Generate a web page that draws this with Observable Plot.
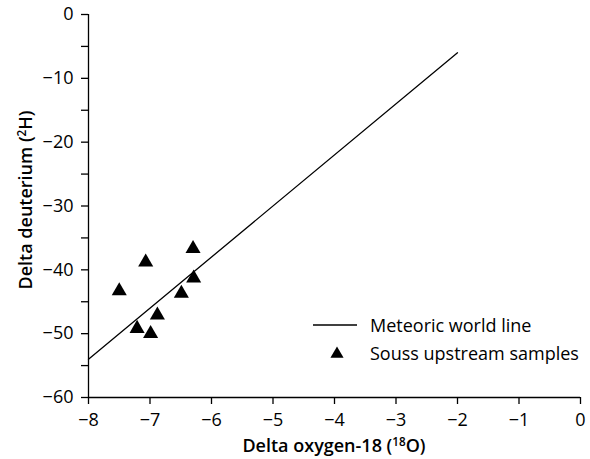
<!DOCTYPE html>
<html><head><meta charset="utf-8">
<script src="https://cdn.jsdelivr.net/npm/d3@7"></script>
<script src="https://cdn.jsdelivr.net/npm/@observablehq/plot@0.6"></script>
<style>
body{margin:0;background:#fff;}
#wrap{position:relative;width:590px;height:459px;font-family:"Open Sans",sans-serif;}
#legend{position:absolute;left:313px;top:311px;font-size:18px;color:#000;}
#legend .row{display:flex;align-items:center;height:28px;}
#legend svg{width:52px;height:20px;margin-right:5px;}
</style>
</head><body><div id="wrap"><div id="chart"></div><div id="legend"></div></div>
<script>
// Data
const sampleX = [-7.50, -7.07, -6.30, -6.29, -6.49, -6.88, -7.21, -6.99];
const sampleY = [-43.3, -38.8, -36.7, -41.3, -43.7, -47.1, -49.2, -50.0];
const lineX = [-8, -2];
const lineY = [-54, -6];
const xTicks = [-8, -7, -6, -5, -4, -3, -2, -1, 0];
const yTicks = [-60, -50, -40, -30, -20, -10, 0];
const yMinorTicks = [-55, -45, -35, -25, -15, -5];
const xLabel = ["Delta oxygen-18 (", "18", "O)"];
const yLabel = ["Delta deuterium (", "2", "H)"];
const legendLabels = ["Meteoric world line", "Souss upstream samples"];

const samples = sampleX.map((x, i) => ({x, y: sampleY[i]}));
const mwl = lineX.map((x, i) => ({x, y: lineY[i]}));

const chart = Plot.plot({
  width: 590,
  height: 459,
  marginLeft: 88,
  marginRight: 10,
  marginTop: 14,
  marginBottom: 62,
  style: {fontFamily: "'Open Sans', sans-serif", fontSize: "18px", color: "#000", background: "#fff"},
  x: {domain: [-8, 0]},
  y: {domain: [-60, 0]},
  marks: [
    Plot.axisX({ticks: xTicks, tickSize: 7, tickPadding: 9, strokeWidth: 1.3, label: null}),
    Plot.axisY({ticks: yTicks, tickSize: 7, tickPadding: 8, strokeWidth: 1.3, label: null}),
    Plot.axisY({ticks: yMinorTicks, tickSize: 7, text: null, strokeWidth: 1.3, label: null}),
    Plot.ruleX([-8], {strokeWidth: 1.3}),
    Plot.ruleY([-60], {strokeWidth: 1.3}),
    Plot.line(mwl, {x: "x", y: "y", stroke: "#000", strokeWidth: 1.3}),
    Plot.dot(samples, {x: "x", y: "y", symbol: "triangle", fill: "#000", r: 5.6})
  ]
});
document.getElementById("chart").appendChild(chart);

// axis titles as SVG text with real superscripts
const svg = d3.select(chart);
function title(sel, parts) {
  sel.append("tspan").text(parts[0]);
  sel.append("tspan").attr("font-size", "0.65em").attr("dy", "-0.55em").text(parts[1]);
  sel.append("tspan").attr("dy", "0.36em").text(parts[2]);
}
const tx = svg.append("text").attr("x", 334).attr("y", 452).attr("text-anchor", "middle")
  .attr("font-weight", 600).attr("font-size", 18).attr("fill", "#000");
title(tx, xLabel);
const ty = svg.append("text").attr("transform", "translate(32,200) rotate(-90)").attr("text-anchor", "middle")
  .attr("font-weight", 600).attr("font-size", 18).attr("fill", "#000");
title(ty, yLabel);

// legend
const legend = d3.select("#legend");
legendLabels.forEach((lab, i) => {
  const row = legend.append("div").attr("class", "row");
  const s = row.append("svg");
  if (i === 0) s.append("line").attr("x1", 0).attr("x2", 44).attr("y1", 10).attr("y2", 10).attr("stroke", "#000").attr("stroke-width", 1.3);
  else s.append("path").attr("d", d3.symbol(d3.symbolTriangle, 75)()).attr("transform", "translate(24,11)").attr("fill", "#000");
  row.append("span").text(lab);
});
</script>
</body></html>
